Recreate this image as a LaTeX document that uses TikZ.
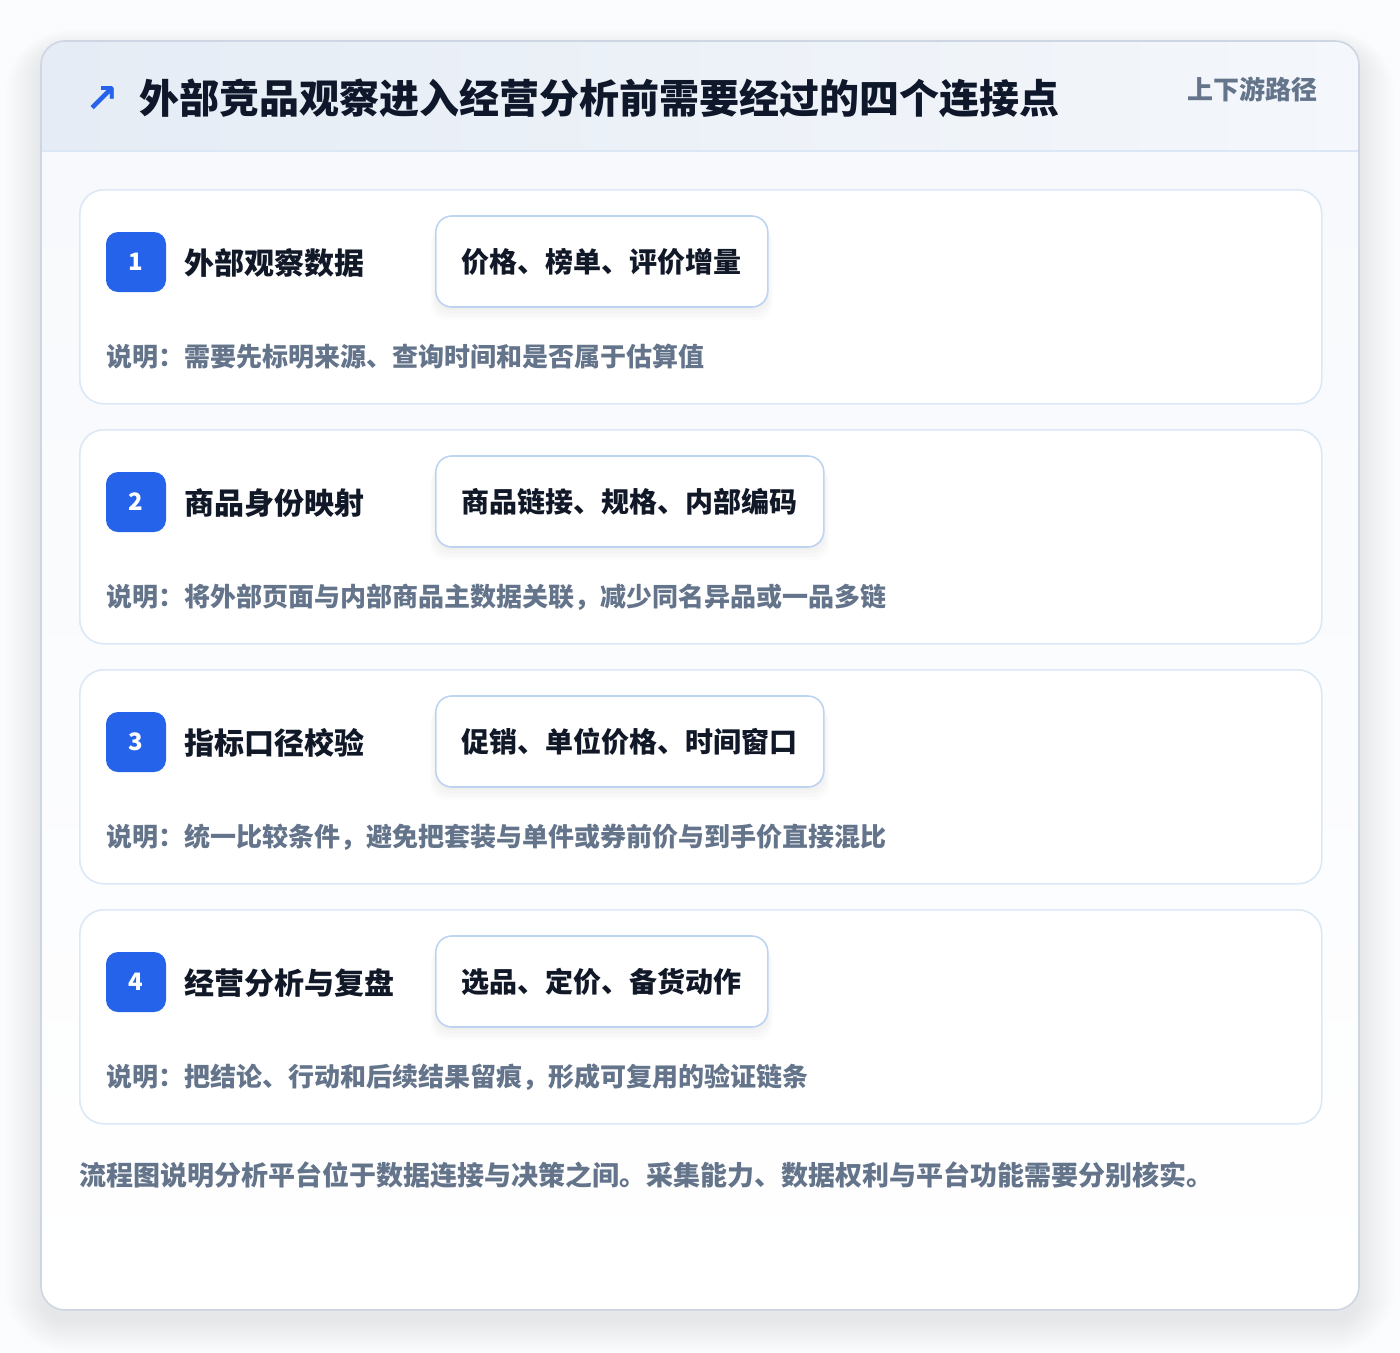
\documentclass[tikz,border=0pt]{standalone}
\usepackage{fontspec}
\setmainfont{Noto Sans CJK SC}
\newfontfamily\symfont{DejaVu Sans}
\usetikzlibrary{shadows}
\definecolor{pagebg}{HTML}{FBFCFD}
\definecolor{framec}{HTML}{CDD6E2}
\definecolor{headl}{HTML}{E5ECF5}
\definecolor{headr}{HTML}{F4F7FB}
\definecolor{headline}{HTML}{DCE7F5}
\definecolor{bodytop}{HTML}{F7F9FC}
\definecolor{cardline}{HTML}{DCE8F6}
\definecolor{pillline}{HTML}{BDD4F1}
\definecolor{badgec}{HTML}{2563EB}
\definecolor{titlec}{HTML}{0F172A}
\definecolor{labelc}{HTML}{111827}
\definecolor{notec}{HTML}{64748B}
\tikzset{
  cardbox/.style={draw=cardline, line width=1.6pt, fill=white, rounded corners=24pt,
    minimum width=1242pt, minimum height=214pt, inner sep=0pt, anchor=north west},
  badge/.style={fill=badgec, rounded corners=12pt, minimum size=60pt, inner sep=0pt,
    text=white, font=\fontsize{24pt}{28pt}\selectfont\bfseries},
  steplabel/.style={anchor=west, inner sep=0pt, text=labelc,
    font=\fontsize{30pt}{36pt}\selectfont\bfseries},
  pill/.style={anchor=west, draw=pillline, line width=1.6pt, fill=white, rounded corners=16pt,
    minimum height=91pt, inner xsep=26pt, inner ysep=0pt, text=labelc,
    font=\fontsize{28pt}{34pt}\selectfont\bfseries,
    general shadow={shadow xshift=0pt, shadow yshift=-3pt, shadow scale=1.0, opacity=0.018, fill=black},
    general shadow={shadow xshift=0pt, shadow yshift=-6pt, shadow scale=1.01, opacity=0.016, fill=black},
    general shadow={shadow xshift=0pt, shadow yshift=-9pt, shadow scale=1.02, opacity=0.014, fill=black},
    general shadow={shadow xshift=0pt, shadow yshift=-12pt, shadow scale=1.03, opacity=0.012, fill=black}},
  notetext/.style={anchor=west, inner sep=0pt, text=notec,
    font=\fontsize{26pt}{32pt}\selectfont\bfseries},
}
\begin{document}
\begin{tikzpicture}[x=1pt,y=-1pt]
\useasboundingbox (0,0) rectangle (1400,1352);
\fill[pagebg] (0,0) rectangle (1400,1352);
% soft shadow of the frame
\foreach \i in {0,2,...,40} {
  \fill[black, opacity=0.0045, rounded corners=24+\i]
    (41-\i*0.9, 50-\i*0.5) rectangle (1359+\i*0.9, 1322+\i*0.75);
}
% frame
\node[fill=white, rounded corners=24pt, minimum width=1318pt, minimum height=1269pt,
  inner sep=0pt, anchor=north west] (frame) at (41,41) {};
\begin{scope}
  \clip[rounded corners=24pt] (41,41) rectangle (1359,1310);
  \shade[left color=headl, right color=headr] (41,41) rectangle (1359,151);
  \shade[top color=bodytop, bottom color=white] (41,151) rectangle (1359,1310);
\end{scope}
\draw[headline, line width=1.6pt] (frame.west |- 0,151) -- (frame.east |- 0,151);
\draw[framec, line width=1.6pt, rounded corners=24pt] (41,41) rectangle (1359,1310);
% header
\node[text=badgec, inner sep=0pt, font=\symfont\fontsize{40pt}{44pt}\selectfont\bfseries]
  (arrow) at (102,99) {↗};
\node[anchor=west, inner sep=0pt, text=titlec, font=\fontsize{40pt}{48pt}\selectfont\bfseries]
  (title) at (139,98) {外部竞品观察进入经营分析前需要经过的四个连接点};
\node[anchor=east, inner sep=0pt, text=notec, font=\fontsize{26pt}{32pt}\selectfont\bfseries]
  (route) at (1318,89) {上下游路径};
% cards
\foreach \k/\num/\lab/\pil/\note in {
  0/1/外部观察数据/价格、榜单、评价增量/说明：需要先标明来源、查询时间和是否属于估算值,
  1/2/商品身份映射/商品链接、规格、内部编码/说明：将外部页面与内部商品主数据关联，减少同名异品或一品多链,
  2/3/指标口径校验/促销、单位价格、时间窗口/说明：统一比较条件，避免把套装与单件或券前价与到手价直接混比,
  3/4/经营分析与复盘/选品、定价、备货动作/说明：把结论、行动和后续结果留痕，形成可复用的验证链条} {
  \node[cardbox] (card\num) at (79,189+240*\k) {};
  \node[badge] (badge\num) at (136,262+240*\k) {\num};
  \node[steplabel] (label\num) at (184,263+240*\k) {\lab};
  \node[pill] (pill\num) at (435,261.5+240*\k) {\pil};
  \node[notetext] (note\num) at (106,357+240*\k) {\note};
}
% footer
\node[anchor=west, inner sep=0pt, text=notec, font=\fontsize{27pt}{32pt}\selectfont\bfseries]
  (footer) at (79,1175) {流程图说明分析平台位于数据连接与决策之间。采集能力、数据权利与平台功能需要分别核实。};
\end{tikzpicture}
\end{document}
